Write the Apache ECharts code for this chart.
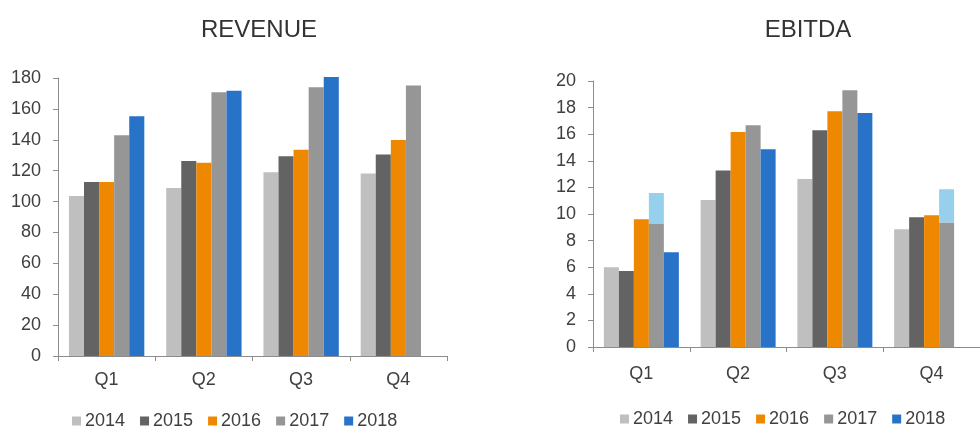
<!DOCTYPE html>
<html>
<head>
<meta charset="utf-8">
<script src="https://cdn.jsdelivr.net/npm/echarts@6/dist/echarts.min.js"></script>
<style>html,body{margin:0;padding:0;background:#fff}#c{width:980px;height:428px}</style>
</head>
<body>
<div id="c"></div>
<script>
const quarters = ['Q1', 'Q2', 'Q3', 'Q4'];
const years = ['2014', '2015', '2016', '2017', '2018'];
const revenueTicks = [0, 20, 40, 60, 80, 100, 120, 140, 160, 180];
const ebitdaTicks = [0, 2, 4, 6, 8, 10, 12, 14, 16, 18, 20];

const revenue2014 = [103.6, 108.8, 119.0, 118.1];
const revenue2015 = [112.7, 126.3, 129.3, 130.4];
const revenue2016 = [112.7, 125.2, 133.6, 139.9];
const revenue2017 = [142.9, 170.8, 174.0, 175.1];
const revenue2018 = [155.2, 171.8, 180.7, null];

const ebitda2014 = [6.0, 11.05, 12.63, 8.85];
const ebitda2015 = [5.72, 13.28, 16.29, 9.75];
const ebitda2016 = [9.6, 16.17, 17.72, 9.9];
const ebitda2017 = [9.25, 16.67, 19.3, 9.37];
const ebitda2017Extra = [2.33, null, null, 2.49];
const ebitda2018 = [7.12, 14.86, 17.6, null];

const colors = ['#BFBFBF', '#636363', '#EE8800', '#969696', '#2872C8'];
const extraColor = '#96D0EC';
const font = 'Liberation Sans, Arial, sans-serif';
const textColor = '#404040';
const axisColor = '#8C8C8C';

function bar(name, data, idx, colorIdx, stack) {
  const s = {
    name: name, type: 'bar', data: data,
    xAxisIndex: idx, yAxisIndex: idx,
    barGap: '0%', barCategoryGap: '22.5%',
    clip: false,
    itemStyle: { color: colorIdx === null ? extraColor : colors[colorIdx] }
  };
  if (stack) s.stack = stack;
  return s;
}

const revSeries = [revenue2014, revenue2015, revenue2016, revenue2017, revenue2018];
const ebSeries = [ebitda2014, ebitda2015, ebitda2016, ebitda2017, ebitda2018];

const series = [];
revSeries.forEach((d, i) => series.push(bar(years[i], d, 0, i)));
ebSeries.forEach((d, i) => {
  series.push(bar(years[i], d, 1, i, i === 3 ? 'e2017' : null));
  if (i === 3) series.push(bar('2017 extra', ebitda2017Extra, 1, null, 'e2017'));
});

function yAxis(idx, ticks) {
  return {
    type: 'value', gridIndex: idx,
    min: ticks[0], max: ticks[ticks.length - 1], interval: ticks[1] - ticks[0],
    axisLine: { show: true, lineStyle: { color: axisColor, width: 1 } },
    axisTick: { show: true, length: 5, lineStyle: { color: axisColor } },
    splitLine: { show: false },
    axisLabel: { color: textColor, fontSize: 18, fontFamily: font, margin: 17 }
  };
}
function xAxis(idx, margin) {
  return {
    type: 'category', gridIndex: idx, data: quarters,
    axisLine: { show: true, lineStyle: { color: axisColor, width: 1 } },
    axisTick: { show: true, length: 5, lineStyle: { color: axisColor } },
    axisLabel: { color: textColor, fontSize: 18, fontFamily: font, margin: margin }
  };
}
function legend(left, top) {
  return {
    data: years, left: left, top: top, icon: 'rect',
    itemWidth: 9, itemHeight: 9, itemGap: 15, padding: 0,
    textStyle: { color: textColor, fontSize: 18, fontFamily: font, padding: [0, 0, 0, -1] },
    selectedMode: false
  };
}

const option = {
  animation: false,
  backgroundColor: '#fff',
  title: [
    { text: 'REVENUE', left: 254, top: 13, textAlign: 'center',
      textStyle: { color: '#333', fontSize: 24, fontWeight: 'normal', fontFamily: font } },
    { text: 'EBITDA', left: 803, top: 13, textAlign: 'center',
      textStyle: { color: '#333', fontSize: 24, fontWeight: 'normal', fontFamily: font } }
  ],
  legend: [legend(72, 412), legend(620, 410)],
  grid: [
    { left: 58, right: 533, top: 78, bottom: 72, containLabel: false },
    { left: 593, right: -13, top: 81, bottom: 81, containLabel: false }
  ],
  xAxis: [xAxis(0, 15), xAxis(1, 18)],
  yAxis: [yAxis(0, revenueTicks), yAxis(1, ebitdaTicks)],
  series: series
};

const chart = echarts.init(document.getElementById('c'), null, { renderer: 'canvas' });
chart.setOption(option);
</script>
</body>
</html>
